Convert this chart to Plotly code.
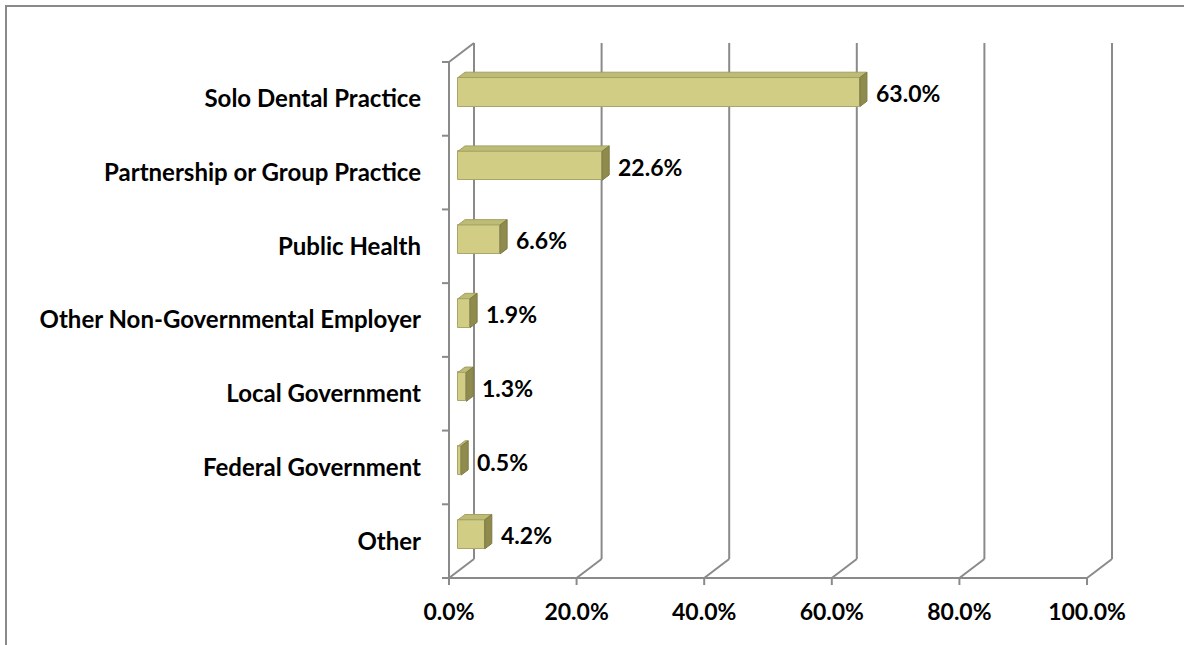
import plotly.graph_objects as go

# ---------------- data ----------------
categories = [
    "Solo Dental Practice",
    "Partnership or Group Practice",
    "Public Health",
    "Other Non-Governmental Employer",
    "Local Government",
    "Federal Government",
    "Other",
]
values = [63.0, 22.6, 6.6, 1.9, 1.3, 0.5, 4.2]
x_ticks = [0, 20, 40, 60, 80, 100]
x_tick_labels = ["0.0%", "20.0%", "40.0%", "60.0%", "80.0%", "100.0%"]

# ---------------- layout geometry ----------------
W, H = 1184, 645
ML, MR, MT, MB = 441, 65, 40, 58
X0_PX, X100_PX = 449, 1087          # front plane: 0% and 100%
Y0_PX, YTOP_PX = 578, 62            # front plane: bottom and top of category axis
x_scale = (X100_PX - X0_PX) / 100.0
n = len(categories)
y_scale = (Y0_PX - YTOP_PX) / n
plot_w = W - ML - MR
plot_h = H - MT - MB
x_min = -(X0_PX - ML) / x_scale
x_max = x_min + plot_w / x_scale
y_min = -(H - MB - Y0_PX) / y_scale
y_max = y_min + plot_h / y_scale

DX = 25 / x_scale      # depth offset (x units)
DY = 19 / y_scale      # depth offset (y units)
F0, F1 = 0.36, 0.64    # bar depth fractions
BAR_W = 29 / y_scale

grid_col = "#8a8a8a"
FONT = "Lato"

# category positions (top first)
ypos = [n - 1 - i + 0.5 for i in range(n)]

fig = go.Figure()

# front faces of bars
fig.add_trace(go.Bar(
    orientation="h",
    y=[p + F0 * DY for p in ypos],
    x=values,
    base=F0 * DX,
    width=BAR_W,
    marker=dict(color="#d1cd85", line=dict(color="#a9a66a", width=1)),
    hoverinfo="skip",
    showlegend=False,
))

shapes = []
line = dict(color=grid_col, width=2)
# frame: floor diagonals and back-wall verticals
for v in x_ticks:
    shapes.append(dict(type="line", xref="x", yref="y", x0=v, y0=0, x1=v + DX, y1=DY, line=line, layer="below"))
    shapes.append(dict(type="line", xref="x", yref="y", x0=v + DX, y0=DY, x1=v + DX, y1=n + DY, line=line, layer="below"))
    # x ticks
    shapes.append(dict(type="line", xref="x", yref="y", x0=v, y0=0, x1=v, y1=-7 / y_scale, line=line, layer="below"))
shapes.append(dict(type="line", xref="x", yref="y", x0=0, y0=0, x1=100, y1=0, line=line, layer="below"))
shapes.append(dict(type="line", xref="x", yref="y", x0=0, y0=0, x1=0, y1=n, line=line, layer="below"))
shapes.append(dict(type="line", xref="x", yref="y", x0=0, y0=n, x1=DX, y1=n + DY, line=line, layer="below"))
for k in range(n + 1):
    shapes.append(dict(type="line", xref="x", yref="y", x0=-7 / x_scale, y0=k, x1=0, y1=k, line=line, layer="below"))

# top and right faces of bars
for p, v in zip(ypos, values):
    xb = F0 * DX
    yb = p + F0 * DY - BAR_W / 2
    yt = p + F0 * DY + BAR_W / 2
    dd = (F1 - F0) * DX
    ddy = (F1 - F0) * DY
    top = f"M {xb},{yt} L {xb + v},{yt} L {xb + v + dd},{yt + ddy} L {xb + dd},{yt + ddy} Z"
    right = f"M {xb + v},{yb} L {xb + v},{yt} L {xb + v + dd},{yt + ddy} L {xb + v + dd},{yb + ddy} Z"
    shapes.append(dict(type="path", xref="x", yref="y", path=top, fillcolor="#bdbb74",
                       line=dict(color="#a3a166", width=1), layer="above"))
    shapes.append(dict(type="path", xref="x", yref="y", path=right, fillcolor="#8e8b4c",
                       line=dict(color="#7d7a44", width=1), layer="above"))

# outer border (chart area, partly cropped)
shapes.append(dict(type="rect", xref="paper", yref="paper",
                   x0=(6 - ML) / plot_w, x1=(W + 10 - ML) / plot_w,
                   y0=(H - MB - 6) / plot_h, y1=(H - MB - H - 10) / plot_h,
                   line=dict(color="#8a8a8a", width=2), fillcolor="rgba(0,0,0,0)", layer="below"))

annotations = []
for p, v in zip(ypos, values):
    annotations.append(dict(
        x=v + F1 * DX + 1.1, y=p + 0.08, xref="x", yref="y",
        text=f"{v:.1f}%", showarrow=False, xanchor="left", yanchor="middle",
        font=dict(family=FONT, size=23, color="black", weight="bold"),
    ))

fig.update_layout(
    width=W, height=H,
    margin=dict(l=ML, r=MR, t=MT, b=MB, pad=0),
    paper_bgcolor="white", plot_bgcolor="white",
    shapes=shapes, annotations=annotations,
    xaxis=dict(range=[x_min, x_max], tickvals=x_ticks, ticktext=x_tick_labels,
               showgrid=False, zeroline=False, showline=False, ticks="",
               tickfont=dict(family=FONT, size=23, color="black", weight="bold"),
               ticklabelstandoff=9),
    yaxis=dict(range=[y_min, y_max], tickvals=ypos, ticktext=categories,
               showgrid=False, zeroline=False, showline=False, ticks="",
               tickfont=dict(family=FONT, size=24, color="black", weight="bold"),
               ticklabelstandoff=19),
    bargap=0,
)

fig.write_html("out.html", config={"displayModeBar": False},
               post_script="document.body.style.margin='0';")
